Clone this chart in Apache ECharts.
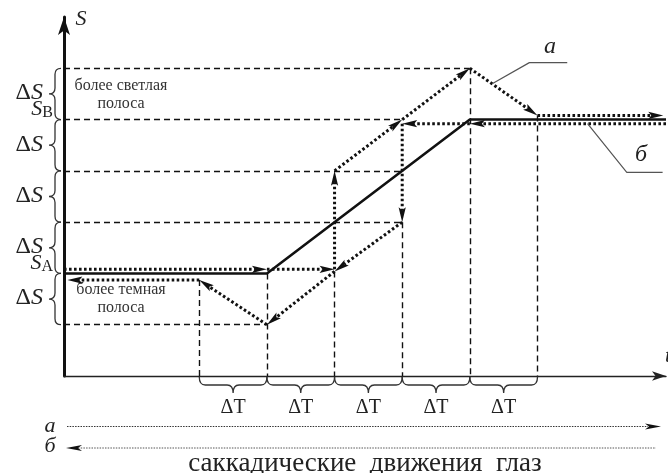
<!DOCTYPE html>
<html>
<head>
<meta charset="utf-8">
<script src="https://cdn.jsdelivr.net/npm/echarts@6/dist/echarts.min.js"></script>
<style>html,body{margin:0;padding:0;background:#fff}#chart{width:668px;height:473px}</style>
</head>
<body>
<div id="chart"></div>
<script>
// уровни S в единицах ΔS (S_A = 2, S_B = 5)
const levelsS = [1, 2, 3, 4, 5, 6];
// моменты времени в единицах ΔT
const ticksT = [2, 3, 4, 5, 6, 7];
// стимул - сплошная линия
const stimulus = [[0, 2], [3, 2], [6, 5], [8.9, 5]];
// путь а (саккада слева направо)
const pathA = [[0, 2.08], [3, 2.08], [4, 2.08], [4, 4], [5, 5], [6, 6], [7, 5.08], [8.86, 5.08]];
// путь б (саккада справа налево)
const pathB = [[8.9, 4.92], [6, 4.92], [5, 4.92], [5, 3], [4, 2.04], [3, 1], [2, 1.87], [0.05, 1.87]];
// пунктир горизонтальный: [уровень, до t]
const guidesH = [[6, 6], [5, 5], [4, 5], [3, 5], [1, 3]];
// пунктир вертикальный: [t, от уровня]
const guidesV = [[2, 1.87], [3, 2], [4, 2.04], [5, 3], [6, 6], [7, 5.08]];
// выноски к подписям а, б
const leaderA = [[6.33, 5.7], [6.88, 6.11], [7.44, 6.11]];
const leaderB = [[7.74, 4.92], [8.32, 3.97], [8.85, 3.97]];

const FONT = 'Liberation Serif';

function toSegs(path) {
  const out = [];
  for (let i = 0; i < path.length - 1; i++) {
    out.push([path[i][0], path[i][1], path[i + 1][0], path[i + 1][1]]);
  }
  return out;
}

function pairs(arr) {
  const out = [];
  for (let i = 0; i < arr.length - 1; i++) out.push([arr[i], arr[i + 1]]);
  return out;
}

// отрезок точками со стрелкой на конце
function renderArrowSeg(params, api) {
  const p1 = api.coord([api.value(0), api.value(1)]);
  const p2 = api.coord([api.value(2), api.value(3)]);
  const dx = p2[0] - p1[0], dy = p2[1] - p1[1];
  const len = Math.sqrt(dx * dx + dy * dy);
  const ux = dx / len, uy = dy / len;
  const L = 15, W = 3.6;
  const bx = p2[0] - ux * L, by = p2[1] - uy * L;
  return {
    type: 'group',
    children: [{
      type: 'line',
      shape: { x1: p1[0], y1: p1[1], x2: bx + ux * 3, y2: by + uy * 3 },
      style: { stroke: '#111', lineWidth: 3, lineDash: [2.6, 2.4] }
    }, {
      type: 'polygon',
      shape: {
        points: [
          [p2[0], p2[1]],
          [bx - uy * W, by + ux * W],
          [p2[0] - ux * L * 0.8, p2[1] - uy * L * 0.8],
          [bx + uy * W, by - ux * W]
        ]
      },
      style: { fill: '#111' }
    }]
  };
}

// фигурные скобки под осью t
function renderBraceT(params, api) {
  const p1 = api.coord([api.value(0), 0]);
  const p2 = api.coord([api.value(1), 0]);
  const x1 = p1[0], x2 = p2[0], y0 = p1[1] + 1, h = 16, r = 6;
  const m = (x1 + x2) / 2, c = y0 + h / 2;
  const d = 'M' + x1 + ',' + y0 + ' Q' + x1 + ',' + c + ' ' + (x1 + r) + ',' + c +
    ' L' + (m - r) + ',' + c + ' Q' + m + ',' + c + ' ' + m + ',' + (y0 + h) +
    ' Q' + m + ',' + c + ' ' + (m + r) + ',' + c + ' L' + (x2 - r) + ',' + c +
    ' Q' + x2 + ',' + c + ' ' + x2 + ',' + y0;
  return {
    type: 'group',
    children: [{
      type: 'path',
      shape: { pathData: d },
      style: { fill: 'none', stroke: '#333', lineWidth: 1.3 }
    }, {
      type: 'text',
      x: m, y: y0 + 31,
      style: { text: 'ΔT', font: '20px "' + FONT + '"', fill: '#222', align: 'center', verticalAlign: 'middle' }
    }]
  };
}

// фигурные скобки слева от оси S
function renderBraceS(params, api) {
  const pb = api.coord([0, api.value(0)]);
  const pt = api.coord([0, api.value(1)]);
  const x0 = pb[0] - 3, y1 = pt[1], y2 = pb[1], r = 6, xs = x0 - 6, xt = x0 - 12;
  const m = (y1 + y2) / 2;
  const d = 'M' + x0 + ',' + y1 + ' Q' + xs + ',' + y1 + ' ' + xs + ',' + (y1 + r) +
    ' L' + xs + ',' + (m - r) + ' Q' + xs + ',' + m + ' ' + xt + ',' + m +
    ' Q' + xs + ',' + m + ' ' + xs + ',' + (m + r) + ' L' + xs + ',' + (y2 - r) +
    ' Q' + xs + ',' + y2 + ' ' + x0 + ',' + y2;
  return {
    type: 'group',
    children: [{
      type: 'path',
      shape: { pathData: d },
      style: { fill: 'none', stroke: '#333', lineWidth: 1.3 }
    }, {
      type: 'text',
      x: 43, y: m - 1,
      style: {
        text: '{d|Δ}{s|S}', align: 'right', verticalAlign: 'middle',
        rich: {
          d: { fontFamily: FONT, fontSize: 24, fill: '#222' },
          s: { fontFamily: FONT, fontSize: 24, fontStyle: 'italic', fill: '#222' }
        }
      }
    }]
  };
}

// подписи S_A, S_B
function renderLevelName(params, api) {
  const p = api.coord([0, api.value(0)]);
  return {
    type: 'text',
    x: 53, y: p[1] + 1,
    style: {
      text: '{s|S}{b|' + (params.dataIndex === 0 ? 'A' : 'B') + '}', align: 'right', verticalAlign: 'bottom',
      rich: {
        s: { fontFamily: FONT, fontSize: 22, fontStyle: 'italic', fill: '#222', verticalAlign: 'bottom' },
        b: { fontFamily: FONT, fontSize: 16, fill: '#222', verticalAlign: 'bottom' }
      }
    }
  };
}

const guideData = guidesH.map(g => ({ coords: [[0, g[0]], [g[1], g[0]]] }))
  .concat(guidesV.map(g => ({ coords: [[g[0], g[1]], [g[0], 0]] })));

const chart = echarts.init(document.getElementById('chart'), null, { renderer: 'canvas' });

const option = {
  backgroundColor: '#fff',
  animation: false,
  grid: { left: 64, right: 2, top: 17, bottom: 97 },
  xAxis: {
    type: 'value', min: 0, max: 8.9,
    axisLine: { onZero: false, symbol: ['none', 'arrow'], symbolSize: [7, 14], lineStyle: { color: '#222', width: 1.4 } },
    axisTick: { show: false }, axisLabel: { show: false }, splitLine: { show: false }
  },
  yAxis: {
    type: 'value', min: 0, max: 7,
    axisLine: { show: true, onZero: false, symbol: ['none', 'arrow'], symbolSize: [9, 18], lineStyle: { color: '#111', width: 3 } },
    axisTick: { show: false }, axisLabel: { show: false }, splitLine: { show: false }
  },
  series: [{
    type: 'lines',
    coordinateSystem: 'cartesian2d',
    data: guideData,
    silent: true,
    lineStyle: { color: '#111', width: 1.4, type: [6, 4], opacity: 1 }
  }, {
    type: 'line',
    data: leaderA,
    symbol: 'none',
    lineStyle: { color: '#555', width: 1.2 }
  }, {
    type: 'line',
    data: leaderB,
    symbol: 'none',
    lineStyle: { color: '#555', width: 1.2 }
  }, {
    type: 'line',
    data: stimulus,
    symbol: 'none',
    lineStyle: { color: '#111', width: 2.6 }
  }, {
    type: 'custom',
    renderItem: renderArrowSeg,
    data: toSegs(pathA)
  }, {
    type: 'custom',
    renderItem: renderArrowSeg,
    data: toSegs(pathB)
  }, {
    type: 'custom',
    renderItem: renderBraceT,
    data: pairs(ticksT)
  }, {
    type: 'custom',
    renderItem: renderBraceS,
    data: pairs(levelsS)
  }, {
    type: 'custom',
    renderItem: renderLevelName,
    data: [[levelsS[1], 0], [levelsS[4], 0]]
  }],
  graphic: [
    { type: 'text', x: 81, y: 19, style: { text: 'S', font: 'italic 22px "' + FONT + '"', fill: '#222', align: 'center', verticalAlign: 'middle' } },
    { type: 'text', x: 665, y: 356, style: { text: 't', font: 'italic 22px "' + FONT + '"', fill: '#222', align: 'left', verticalAlign: 'middle' } },
    { type: 'text', x: 550, y: 47, style: { text: 'а', font: 'italic 24px "' + FONT + '"', fill: '#222', align: 'center', verticalAlign: 'middle' } },
    { type: 'text', x: 641, y: 155, style: { text: 'б', font: 'italic 24px "' + FONT + '"', fill: '#222', align: 'center', verticalAlign: 'middle' } },
    { type: 'text', x: 121, y: 95, style: { text: 'более светлая\nполоса', font: '16px "' + FONT + '"', lineHeight: 18, fill: '#333', align: 'center', verticalAlign: 'middle' } },
    { type: 'text', x: 121, y: 299, style: { text: 'более темная\nполоса', font: '16px "' + FONT + '"', lineHeight: 18, fill: '#333', align: 'center', verticalAlign: 'middle' } },
    // нижняя легенда
    { type: 'text', x: 50, y: 426, style: { text: 'а', font: 'italic 22px "' + FONT + '"', fill: '#222', align: 'center', verticalAlign: 'middle' } },
    { type: 'text', x: 50, y: 446, style: { text: 'б', font: 'italic 22px "' + FONT + '"', fill: '#222', align: 'center', verticalAlign: 'middle' } },
    { type: 'line', shape: { x1: 67, y1: 426.5, x2: 648, y2: 426.5 }, style: { stroke: '#333', lineWidth: 1, lineDash: [1.5, 1.2] } },
    { type: 'polygon', shape: { points: [[661, 426.5], [645, 423.5], [649, 426.5], [645, 429.5]] }, style: { fill: '#111' } },
    { type: 'line', shape: { x1: 78, y1: 448, x2: 656, y2: 448 }, style: { stroke: '#555', lineWidth: 1, lineDash: [1.5, 1.2] } },
    { type: 'polygon', shape: { points: [[66, 448], [82, 445], [78, 448], [82, 451]] }, style: { fill: '#111' } },
    { type: 'text', x: 365, y: 464, style: { text: 'саккадические  движения  глаз', font: '27px "' + FONT + '"', fill: '#222', align: 'center', verticalAlign: 'middle' } }
  ]
};

chart.setOption(option);
</script>
</body>
</html>
